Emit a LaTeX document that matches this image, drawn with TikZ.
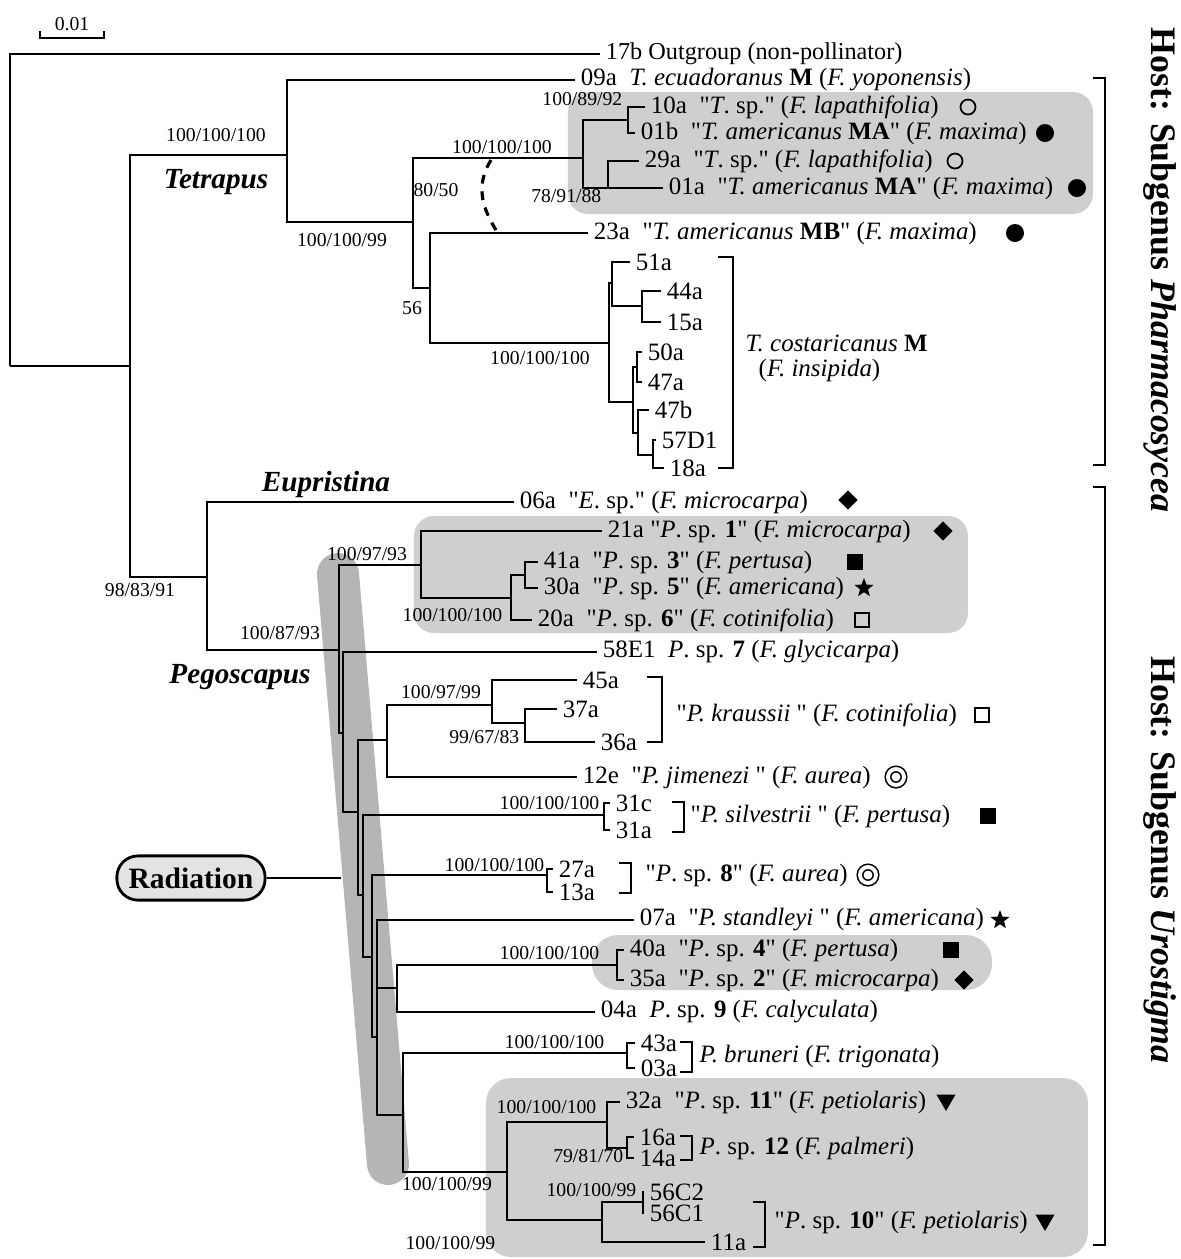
\documentclass[tikz,border=0pt]{standalone}
\usepackage{fontspec}
\setmainfont{Liberation Serif}[Ligatures=TeXOff]
\usetikzlibrary{shapes.geometric,positioning}

\newcommand{\lf}{\fontsize{7.1}{8.5}\selectfont}
\newcommand{\bsf}{\fontsize{5.6}{6.5}\selectfont}
\newcommand{\gf}{\fontsize{8.3}{10}\selectfont\bfseries\itshape}
\newcommand{\hostf}{\fontsize{10.2}{12}\selectfont\bfseries}

\begin{document}
\begin{tikzpicture}[
    x=0.01cm, y=-0.01cm,
    br/.style={line width=0.5pt},
    brk/.style={line width=0.75pt},
    tip/.style={anchor=west, inner xsep=1.5pt, inner ysep=0pt, font=\lf},
    bsv/.style={inner sep=0pt, font=\bsf},
    grp/.style={inner sep=0pt, font=\gf},
    hl/.style={fill=gray!38, rounded corners=0.2cm},
    wcirc/.style={circle, draw, line width=0.5pt, inner sep=0pt, minimum size=0.15cm},
    bcirc/.style={circle, fill, inner sep=0pt, minimum size=0.18cm},
    bdiam/.style={diamond, fill, inner sep=0pt, minimum size=0.2cm},
    bsq/.style={rectangle, fill, inner sep=0pt, minimum size=0.155cm},
    wsq/.style={rectangle, draw, line width=0.5pt, inner sep=0pt, minimum size=0.14cm},
    bstar/.style={star, star points=5, star point ratio=2.4, fill, inner sep=0pt, minimum size=0.2cm},
    dcirc/.style={circle, draw, line width=0.45pt, double=white, double distance=1.1pt, inner sep=0pt, minimum size=0.16cm},
    btri/.style={regular polygon, regular polygon sides=3, shape border rotate=180, fill, inner sep=0pt, minimum size=0.22cm}
]
    \useasboundingbox (0,0) rectangle (1181,1259);

    % shaded clades and radiation band
    \fill[hl] (568,92) rectangle (1093,214);
    \fill[hl] (414,516) rectangle (968,633);
    \fill[hl, rounded corners=0.26cm] (592,935) rectangle (992,990);
    \fill[hl, rounded corners=0.25cm] (486,1078) rectangle (1088,1257);
    \coordinate (bandtop) at (338,574);
    \coordinate (bandbot) at (388,1164);
    \draw[gray!58, line width=0.42cm, line cap=round] (bandtop) -- (bandbot);

    % scale bar
    \coordinate (sb1) at (40,38);
    \coordinate (sb2) at (104,38);
    \draw[br] (sb1) ++(0,-7) -- (sb1) -- (sb2) -- ++(0,-7);
    \node[bsv] (sbl) at (72,24) {0.01};

    % tree nodes
    \coordinate (root) at (10,366);
    \coordinate (ing) at (130,366);
    \coordinate (tet) at (287,155);
    \coordinate (tb) at (413,222);
    \coordinate (c1) at (583,158);
    \coordinate (cd) at (628,120);
    \coordinate (ce) at (608,188);
    \coordinate (tb2) at (430,288);
    \coordinate (cos) at (609,343);
    \coordinate (cg) at (612,283);
    \coordinate (cgi) at (642,306);
    \coordinate (ch) at (633,402);
    \coordinate (chi) at (637,367);
    \coordinate (chj) at (638,433);
    \coordinate (chk) at (653,455);
    \coordinate (eup) at (207,577);
    \coordinate (peg) at (339,650);
    \coordinate (s1) at (421,565);
    \coordinate (s1t) at (511,598);
    \coordinate (s1u) at (525,575);
    \coordinate (p1) at (343,733);
    \coordinate (p2) at (358,812);
    \coordinate (kr) at (387,740);
    \coordinate (krl) at (492,705);
    \coordinate (krm) at (525,723);
    \coordinate (p3) at (363,895);
    \coordinate (sil) at (604,815);
    \coordinate (p4) at (372,957);
    \coordinate (sp8) at (547,875);
    \coordinate (p5) at (377,1037);
    \coordinate (q) at (397,988);
    \coordinate (s3) at (617,965);
    \coordinate (p6) at (403,1115);
    \coordinate (bru) at (627,1053);
    \coordinate (v) at (507,1172);
    \coordinate (w) at (607,1122);
    \coordinate (x) at (627,1148);
    \coordinate (yy) at (602,1220);
    \coordinate (z) at (643,1202);

    % leaves
    \node[tip, font=\fontsize{6.9}{8}\selectfont] (t17b) at (600,54) {17b Outgroup (non-pollinator)};
    \node[tip] (t09a) at (575,80) {09a\enspace\textit{T. ecuadoranus} \textbf{M} (\textit{F. yoponensis})};
    \node[tip] (t10a) at (645,107) {10a\enspace"\textit{T}. sp." (\textit{F. lapathifolia})};
    \node[tip] (t01b) at (635,133) {01b\enspace"\textit{T. americanus} \textbf{MA}" (\textit{F. maxima})};
    \node[tip] (t29a) at (639,161) {29a\enspace"\textit{T}. sp." (\textit{F. lapathifolia})};
    \node[tip] (t01a) at (663,188) {01a\enspace"\textit{T. americanus} \textbf{MA}" (\textit{F. maxima})};
    \node[tip] (t23a) at (588,233) {23a\enspace"\textit{T. americanus} \textbf{MB}" (\textit{F. maxima})};
    \node[tip] (t51a) at (630,262) {51a};
    \node[tip] (t44a) at (661,291) {44a};
    \node[tip] (t15a) at (661,322) {15a};
    \node[tip] (t50a) at (642,352) {50a};
    \node[tip] (t47a) at (642,382) {47a};
    \node[tip] (t47b) at (649,410) {47b};
    \node[tip] (t57D1) at (656,440) {57D1};
    \node[tip] (t18a) at (664,468) {18a};
    \node[tip] (t06a) at (514,502) {06a\enspace"\textit{E}. sp." (\textit{F. microcarpa})};
    \node[tip] (t21a) at (602,531) {21a "\textit{P}. sp. \textbf{1}" (\textit{F. microcarpa})};
    \node[tip] (t41a) at (538,562) {41a\enspace"\textit{P}. sp. \textbf{3}" (\textit{F. pertusa})};
    \node[tip] (t30a) at (538,588) {30a\enspace"\textit{P}. sp. \textbf{5}" (\textit{F. americana})};
    \node[tip] (t20a) at (532,620) {20a\enspace"\textit{P}. sp. \textbf{6}" (\textit{F. cotinifolia})};
    \node[tip] (t58E1) at (597,652) {58E1\enspace\textit{P}. sp. \textbf{7} (\textit{F. glycicarpa})};
    \node[tip] (t45a) at (577,680) {45a};
    \node[tip] (t37a) at (557,709) {37a};
    \node[tip] (t36a) at (595,742) {36a};
    \node[tip] (t12e) at (577,777) {12e\enspace"\textit{P. jimenezi} " (\textit{F. aurea})};
    \node[tip] (t31c) at (610,803) {31c};
    \node[tip] (t31a) at (610,830) {31a};
    \node[tip] (t27a) at (553,869) {27a};
    \node[tip] (t13a) at (553,892) {13a};
    \node[tip] (t07a) at (634,920) {07a\enspace"\textit{P. standleyi} " (\textit{F. americana})};
    \node[tip] (t40a) at (624,950) {40a\enspace"\textit{P}. sp. \textbf{4}" (\textit{F. pertusa})};
    \node[tip] (t35a) at (624,980) {35a\enspace"\textit{P}. sp. \textbf{2}" (\textit{F. microcarpa})};
    \node[tip] (t04a) at (595,1012) {04a\enspace\textit{P}. sp. \textbf{9} (\textit{F. calyculata})};
    \node[tip] (t43a) at (635,1043) {43a};
    \node[tip] (t03a) at (635,1068) {03a};
    \node[tip] (t32a) at (620,1102) {32a\enspace"\textit{P}. sp. \textbf{11}" (\textit{F. petiolaris})};
    \node[tip] (t16a) at (634,1137) {16a};
    \node[tip] (t14a) at (634,1158) {14a};
    \node[tip] (t56C2) at (644,1192) {56C2};
    \node[tip] (t56C1) at (644,1213) {56C1};
    \node[tip] (t11a) at (705,1242) {11a};

    % branches
    \foreach \a/\b in {root/ing, ing/tet, ing/eup, tet/tb, tb/c1, tb/tb2, c1/cd, c1/ce,
        tb2/cos, cos/cg, cos/ch, cg/cgi, ch/chi, ch/chj, chj/chk, eup/peg, peg/s1, peg/p1,
        s1/s1t, s1t/s1u, p1/p2, p2/kr, p2/p3, kr/krl, krl/krm, p3/sil, p3/p4, p4/sp8, p4/p5,
        p5/q, p5/p6, q/s3, p6/bru, p6/v, v/w, v/yy, w/x, yy/z}
        \draw[br] (\a) |- (\b);
    \foreach \a/\b in {root/t17b, tet/t09a, cd/t10a, cd/t01b, ce/t29a, ce/t01a, tb2/t23a,
        cg/t51a, cgi/t44a, cgi/t15a, chi/t50a, chi/t47a, chj/t47b, chk/t57D1, chk/t18a,
        eup/t06a, s1/t21a, s1t/t20a, s1u/t41a, s1u/t30a, p1/t58E1, kr/t12e, krl/t45a,
        krm/t37a, krm/t36a, sil/t31c, sil/t31a, sp8/t27a, sp8/t13a, p5/t07a, q/t04a,
        s3/t40a, s3/t35a, bru/t43a, bru/t03a, w/t32a, x/t16a, x/t14a, yy/t11a, z/t56C2, z/t56C1}
        \draw[br] (\a) |- (\b.west);

    % alternative placement
    \coordinate (dsA) at (491,160);
    \coordinate (dsB) at (496,230);
    \draw[line width=0.9pt, dash pattern=on 2.5pt off 2.2pt] (dsA) .. controls (476,184) and (481,206) .. (dsB);

    % support values
    \node[bsv] (b1) at (216,135) {100/100/100};
    \node[bsv] (b2) at (342,240) {100/100/99};
    \node[bsv] (b3) at (502,147) {100/100/100};
    \node[bsv] (b4) at (436,190) {80/50};
    \node[bsv] (b5) at (412,308) {56};
    \node[bsv] (b6) at (540,358) {100/100/100};
    \node[bsv, anchor=east] (b7) at (623,99) {100/89/92};
    \node[bsv, anchor=east] (b8) at (602,196) {78/91/88};
    \node[bsv] (b9) at (140,590) {98/83/91};
    \node[bsv] (b10) at (280,633) {100/87/93};
    \node[bsv] (b11) at (367,554) {100/97/93};
    \node[bsv, anchor=east] (b12) at (503,615) {100/100/100};
    \node[bsv] (b13) at (441,692) {100/97/99};
    \node[bsv, anchor=east] (b14) at (520,737) {99/67/83};
    \node[bsv, anchor=east] (b15) at (600,803) {100/100/100};
    \node[bsv, anchor=east] (b16) at (545,865) {100/100/100};
    \node[bsv, anchor=east] (b17) at (600,953) {100/100/100};
    \node[bsv, anchor=east] (b18) at (605,1042) {100/100/100};
    \node[bsv, anchor=east] (b19) at (597,1107) {100/100/100};
    \node[bsv, anchor=east] (b20) at (624,1156) {79/81/70};
    \node[bsv] (b21) at (447,1184) {100/100/99};
    \node[bsv, anchor=east] (b22) at (637,1190) {100/100/99};
    \node[bsv, anchor=east] (b23) at (496,1243) {100/100/99};

    % genus names
    \node[grp] (gtet) at (216,182) {Tetrapus};
    \node[grp] (geup) at (326,484) {Eupristina};
    \node[grp] (gpeg) at (240,677) {Pegoscapus};

    % species brackets
    \draw[brk] (718,257) -- (733,257) -- (733,468) -- (718,468);
    \node[anchor=west, inner sep=0pt, font=\lf] (ncos) at (745,343) {\textit{T. costaricanus} \textbf{M}};
    \node[anchor=west, inner sep=0pt, font=\lf] (ncos2) at (758,370) {(\textit{F. insipida})};
    \draw[brk] (647,677) -- (662,677) -- (662,742) -- (647,742);
    \node[anchor=west, inner sep=0pt, font=\lf] (nkra) at (676,715) {"\textit{P. kraussii} " (\textit{F. cotinifolia})};
    \draw[brk] (672,802) -- (684,802) -- (684,832) -- (672,832);
    \node[anchor=west, inner sep=0pt, font=\lf] (nsil) at (690,816) {"\textit{P. silvestrii} " (\textit{F. pertusa})};
    \draw[brk] (619,863) -- (631,863) -- (631,893) -- (619,893);
    \node[anchor=west, inner sep=0pt, font=\lf] (nsp8) at (645,875) {"\textit{P}. sp. \textbf{8}" (\textit{F. aurea})};
    \draw[brk] (680,1042) -- (692,1042) -- (692,1072) -- (680,1072);
    \node[anchor=west, inner sep=0pt, font=\lf] (nbru) at (699,1056) {\textit{P. bruneri} (\textit{F. trigonata})};
    \draw[brk] (680,1136) -- (692,1136) -- (692,1160) -- (680,1160);
    \node[anchor=west, inner sep=0pt, font=\lf] (nsp12) at (699,1148) {\textit{P}. sp. \textbf{12} (\textit{F. palmeri})};
    \draw[brk] (753,1202) -- (765,1202) -- (765,1247) -- (753,1247);
    \node[anchor=west, inner sep=0pt, font=\lf] (nsp10) at (774,1222) {"\textit{P}. sp. \textbf{10}" (\textit{F. petiolaris})};

    % host symbols
    \node[wcirc] (m10a) at (968,107) {};
    \node[bcirc] (m01b) at (1045,133) {};
    \node[wcirc] (m29a) at (955,161) {};
    \node[bcirc] (m01a) at (1077,188) {};
    \node[bcirc] (m23a) at (1015,233) {};
    \node[bdiam] (m06a) at (848,500) {};
    \node[bdiam] (m21a) at (943,531) {};
    \node[bsq] (m41a) at (855,562) {};
    \node[bstar] (m30a) at (864,588) {};
    \node[wsq] (m20a) at (862,620) {};
    \node[wsq] (mkra) at (982,715) {};
    \node[dcirc] (m12e) at (896,777) {};
    \node[bsq] (msil) at (988,816) {};
    \node[dcirc] (msp8) at (868,875) {};
    \node[bstar] (m07a) at (1000,920) {};
    \node[bsq] (m40a) at (951,950) {};
    \node[bdiam] (m35a) at (964,980) {};
    \node[btri] (m32a) at (946,1100) {};
    \node[btri] (msp10) at (1045,1220) {};

    % radiation label
    \node[draw, line width=0.8pt, fill=gray!22, rounded corners=0.21cm, minimum width=1.48cm,
          minimum height=0.43cm, font=\fontsize{8.4}{10}\selectfont\bfseries] (rad) at (191,878) {Radiation};
    \coordinate (radend) at (341,878);
    \draw[br] (rad.east) -- (radend);

    % host brackets
    \draw[brk] (1093,78) -- (1105,78) -- (1105,465) -- (1093,465);
    \draw[brk] (1093,487) -- (1105,487) -- (1105,1245) -- (1093,1245);
    \node[rotate=-90, font=\hostf] (hph) at (1160,270) {Host: Subgenus \textit{Pharmacosycea}};
    \node[rotate=-90, font=\hostf] (huro) at (1160,860) {Host: Subgenus \textit{Urostigma}};
\end{tikzpicture}
\end{document}
